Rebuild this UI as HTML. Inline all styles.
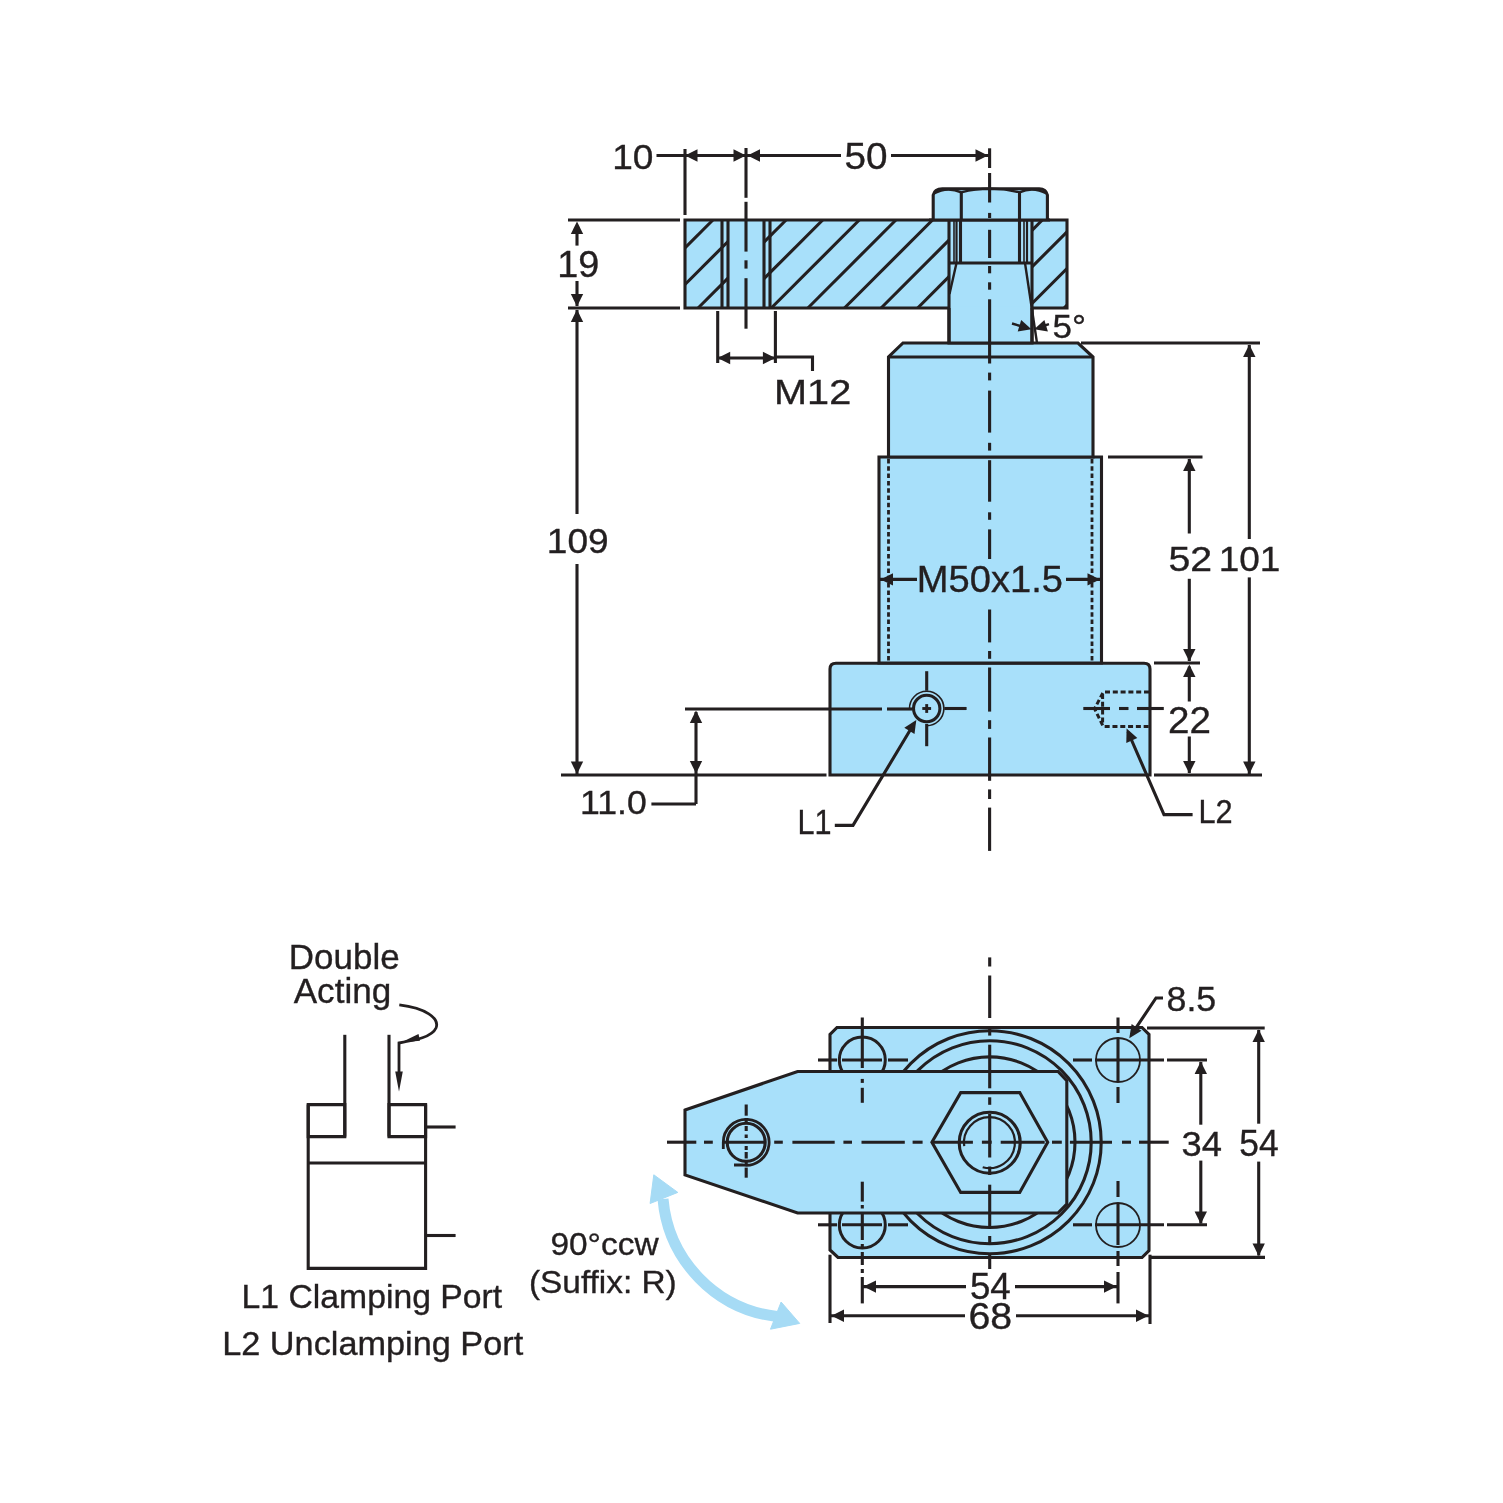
<!DOCTYPE html>
<html><head><meta charset="utf-8"><style>
html,body{margin:0;padding:0;background:#fff;width:1503px;height:1503px;overflow:hidden}
svg{display:block}
.t{will-change:transform}
text{font-family:"Liberation Sans",sans-serif;fill:#231f20}
</style></head><body>
<svg width="1503" height="1503" viewBox="0 0 1503 1503" stroke="#231f20" fill="none">
<rect x="0" y="0" width="1503" height="1503" fill="#fff" stroke="none"/>
<path d="M830,775 L830,669 Q830,663.2 836,663.2 L1144,663.2 Q1150,663.2 1150,669 L1150,775 Z" fill="#a8e0fa" stroke-width="3.1" />
<polygon points="879.0,663.0 879.0,457.0 1101.5,457.0 1101.5,663.0" fill="#a8e0fa" stroke-width="3.1" stroke-linejoin="miter"/>
<line x1="888.5" y1="459.0" x2="888.5" y2="661.0" stroke-width="2.8" stroke-dasharray="4.5 2.8" stroke-dashoffset="0" stroke-linecap="butt"/>
<line x1="1092.0" y1="459.0" x2="1092.0" y2="661.0" stroke-width="2.8" stroke-dasharray="4.5 2.8" stroke-dashoffset="0" stroke-linecap="butt"/>
<polygon points="888.5,457.0 888.5,357.0 903.0,343.0 1078.0,343.0 1093.0,357.0 1093.0,457.0" fill="#a8e0fa" stroke-width="3.1" stroke-linejoin="miter"/>
<line x1="888.5" y1="357.0" x2="1093.0" y2="357.0" stroke-width="3.1" stroke-linecap="butt"/>
<polygon points="949.0,343.0 949.0,263.0 1032.0,263.0 1032.0,343.0" fill="#a8e0fa" stroke-width="3.1" stroke-linejoin="miter"/>
<rect x="685" y="220" width="382" height="88" fill="#a8e0fa" stroke="none"/>
<line x1="685.0" y1="247.9" x2="712.9" y2="220.0" stroke-width="3.1" stroke-linecap="butt"/>
<line x1="685.0" y1="284.5" x2="728.0" y2="241.5" stroke-width="3.1" stroke-linecap="butt"/>
<line x1="698.1" y1="308.0" x2="728.0" y2="278.1" stroke-width="3.1" stroke-linecap="butt"/>
<line x1="764.0" y1="242.1" x2="786.1" y2="220.0" stroke-width="3.1" stroke-linecap="butt"/>
<line x1="764.0" y1="278.7" x2="822.7" y2="220.0" stroke-width="3.1" stroke-linecap="butt"/>
<line x1="771.3" y1="308.0" x2="859.3" y2="220.0" stroke-width="3.1" stroke-linecap="butt"/>
<line x1="807.9" y1="308.0" x2="895.9" y2="220.0" stroke-width="3.1" stroke-linecap="butt"/>
<line x1="844.5" y1="308.0" x2="932.5" y2="220.0" stroke-width="3.1" stroke-linecap="butt"/>
<line x1="881.1" y1="308.0" x2="949.0" y2="240.1" stroke-width="3.1" stroke-linecap="butt"/>
<line x1="917.7" y1="308.0" x2="949.0" y2="276.7" stroke-width="3.1" stroke-linecap="butt"/>
<line x1="1032.0" y1="230.3" x2="1042.3" y2="220.0" stroke-width="3.1" stroke-linecap="butt"/>
<line x1="1032.0" y1="266.9" x2="1067.0" y2="231.9" stroke-width="3.1" stroke-linecap="butt"/>
<line x1="1032.0" y1="303.5" x2="1067.0" y2="268.5" stroke-width="3.1" stroke-linecap="butt"/>
<line x1="1064.1" y1="308.0" x2="1067.0" y2="305.1" stroke-width="3.1" stroke-linecap="butt"/>
<rect x="729.5" y="221.4" width="33" height="85.2" fill="#a8e0fa" stroke="none"/>
<rect x="950.4" y="221.4" width="80.2" height="85.2" fill="#a8e0fa" stroke="none"/>
<polyline points="949.0,308.0 685.0,308.0 685.0,220.0 1067.0,220.0 1067.0,308.0 1032.0,308.0" fill="none" stroke-width="3.1" stroke-linejoin="miter"/>
<line x1="722.0" y1="220.0" x2="722.0" y2="308.0" stroke-width="3.1" stroke-linecap="butt"/>
<line x1="728.0" y1="220.0" x2="728.0" y2="308.0" stroke-width="3.1" stroke-linecap="butt"/>
<line x1="764.0" y1="220.0" x2="764.0" y2="308.0" stroke-width="3.1" stroke-linecap="butt"/>
<line x1="770.0" y1="220.0" x2="770.0" y2="308.0" stroke-width="3.1" stroke-linecap="butt"/>
<line x1="949.0" y1="220.0" x2="949.0" y2="343.0" stroke-width="3.1" stroke-linecap="butt"/>
<line x1="1032.0" y1="220.0" x2="1032.0" y2="343.0" stroke-width="3.1" stroke-linecap="butt"/>
<line x1="954.0" y1="220.0" x2="954.0" y2="263.0" stroke-width="1.6" stroke-linecap="butt"/>
<line x1="956.5" y1="220.0" x2="956.5" y2="263.0" stroke-width="2.2" stroke-linecap="butt"/>
<line x1="960.5" y1="220.0" x2="960.5" y2="263.0" stroke-width="3.1" stroke-linecap="butt"/>
<line x1="1019.5" y1="220.0" x2="1019.5" y2="263.0" stroke-width="3.1" stroke-linecap="butt"/>
<line x1="1024.0" y1="220.0" x2="1024.0" y2="263.0" stroke-width="1.6" stroke-linecap="butt"/>
<line x1="1027.0" y1="220.0" x2="1027.0" y2="263.0" stroke-width="2.2" stroke-linecap="butt"/>
<line x1="949.0" y1="263.0" x2="1032.0" y2="263.0" stroke-width="3.1" stroke-linecap="butt"/>
<line x1="956.5" y1="263.0" x2="949.5" y2="294.0" stroke-width="2.4" stroke-linecap="butt"/>
<line x1="1025.0" y1="263.0" x2="1037.0" y2="343.0" stroke-width="2.4" stroke-linecap="butt"/>
<path d="M933.2,220 L933.2,195 Q934.5,188.7 942.3,188.7 L1039.3,188.7 Q1046,188.7 1047.4,195 L1047.4,220" fill="#a8e0fa" stroke-width="3.1" />
<line x1="961.3" y1="191.5" x2="961.3" y2="220.0" stroke-width="3.1" stroke-linecap="butt"/>
<line x1="1019.5" y1="191.5" x2="1019.5" y2="220.0" stroke-width="3.1" stroke-linecap="butt"/>
<path d="M961.3,192.3 Q989.6,185 1019.5,192.3" fill="none" stroke-width="2.4" />
<path d="M934,193.5 Q947,186 961.3,192.3" fill="none" stroke-width="2.4" />
<path d="M1046.6,193.5 Q1033,186 1019.5,192.3" fill="none" stroke-width="2.4" />
<line x1="929.0" y1="220.0" x2="1050.0" y2="220.0" stroke-width="3.1" stroke-linecap="butt"/>
<line x1="989.6" y1="148.3" x2="989.6" y2="168.0" stroke-width="3.1" stroke-linecap="butt"/>
<line x1="989.6" y1="173.0" x2="989.6" y2="202.5" stroke-width="3.1" stroke-linecap="butt"/>
<line x1="989.6" y1="212.9" x2="989.6" y2="218.0" stroke-width="3.1" stroke-linecap="butt"/>
<line x1="989.6" y1="229.8" x2="989.6" y2="258.0" stroke-width="3.1" stroke-linecap="butt"/>
<line x1="989.6" y1="266.0" x2="989.6" y2="273.3" stroke-width="3.1" stroke-linecap="butt"/>
<line x1="989.6" y1="282.3" x2="989.6" y2="289.7" stroke-width="3.1" stroke-linecap="butt"/>
<line x1="989.6" y1="299.3" x2="989.6" y2="363.5" stroke-width="3.1" stroke-linecap="butt"/>
<line x1="989.6" y1="372.6" x2="989.6" y2="380.4" stroke-width="3.1" stroke-linecap="butt"/>
<line x1="989.6" y1="390.6" x2="989.6" y2="432.6" stroke-width="3.1" stroke-linecap="butt"/>
<line x1="989.6" y1="442.8" x2="989.6" y2="450.6" stroke-width="3.1" stroke-linecap="butt"/>
<line x1="989.6" y1="460.2" x2="989.6" y2="501.7" stroke-width="3.1" stroke-linecap="butt"/>
<line x1="989.6" y1="512.3" x2="989.6" y2="519.8" stroke-width="3.1" stroke-linecap="butt"/>
<line x1="989.6" y1="529.4" x2="989.6" y2="559.0" stroke-width="3.1" stroke-linecap="butt"/>
<line x1="989.6" y1="609.5" x2="989.6" y2="642.4" stroke-width="3.1" stroke-linecap="butt"/>
<line x1="989.6" y1="651.0" x2="989.6" y2="658.8" stroke-width="3.1" stroke-linecap="butt"/>
<line x1="989.6" y1="667.5" x2="989.6" y2="711.6" stroke-width="3.1" stroke-linecap="butt"/>
<line x1="989.6" y1="720.2" x2="989.6" y2="728.9" stroke-width="3.1" stroke-linecap="butt"/>
<line x1="989.6" y1="737.5" x2="989.6" y2="780.8" stroke-width="3.1" stroke-linecap="butt"/>
<line x1="989.6" y1="789.4" x2="989.6" y2="799.0" stroke-width="3.1" stroke-linecap="butt"/>
<line x1="989.6" y1="807.6" x2="989.6" y2="850.9" stroke-width="3.1" stroke-linecap="butt"/>
<line x1="746.0" y1="148.0" x2="746.0" y2="197.8" stroke-width="3.1" stroke-linecap="butt"/>
<line x1="746.0" y1="201.8" x2="746.0" y2="251.6" stroke-width="3.1" stroke-linecap="butt"/>
<line x1="746.0" y1="260.3" x2="746.0" y2="268.6" stroke-width="3.1" stroke-linecap="butt"/>
<line x1="746.0" y1="278.2" x2="746.0" y2="328.7" stroke-width="3.1" stroke-linecap="butt"/>
<line x1="685.0" y1="149.0" x2="685.0" y2="215.0" stroke-width="3.1" stroke-linecap="butt"/>
<line x1="656.5" y1="155.5" x2="746.0" y2="155.5" stroke-width="3.1" stroke-linecap="butt"/>
<polygon points="685.0,155.5 697.5,149.3 697.5,161.7" fill="#231f20" stroke="none"/>
<polygon points="746.0,155.5 733.5,161.7 733.5,149.3" fill="#231f20" stroke="none"/>
<line x1="746.0" y1="155.5" x2="841.0" y2="155.5" stroke-width="3.1" stroke-linecap="butt"/>
<line x1="891.0" y1="155.5" x2="989.0" y2="155.5" stroke-width="3.1" stroke-linecap="butt"/>
<polygon points="747.5,155.5 760.0,149.3 760.0,161.7" fill="#231f20" stroke="none"/>
<polygon points="988.0,155.5 975.5,161.7 975.5,149.3" fill="#231f20" stroke="none"/>
<line x1="568.0" y1="220.0" x2="680.0" y2="220.0" stroke-width="3.1" stroke-linecap="butt"/>
<line x1="568.0" y1="308.0" x2="680.0" y2="308.0" stroke-width="3.1" stroke-linecap="butt"/>
<line x1="577.0" y1="233.0" x2="577.0" y2="245.6" stroke-width="3.1" stroke-linecap="butt"/>
<line x1="577.0" y1="281.0" x2="577.0" y2="306.0" stroke-width="3.1" stroke-linecap="butt"/>
<polygon points="577.0,221.5 583.2,234.0 570.8,234.0" fill="#231f20" stroke="none"/>
<polygon points="577.0,306.5 570.8,294.0 583.2,294.0" fill="#231f20" stroke="none"/>
<line x1="577.0" y1="310.0" x2="577.0" y2="514.0" stroke-width="3.1" stroke-linecap="butt"/>
<line x1="577.0" y1="564.0" x2="577.0" y2="774.0" stroke-width="3.1" stroke-linecap="butt"/>
<polygon points="577.0,309.5 583.2,322.0 570.8,322.0" fill="#231f20" stroke="none"/>
<polygon points="577.0,774.0 570.8,761.5 583.2,761.5" fill="#231f20" stroke="none"/>
<line x1="561.0" y1="775.0" x2="826.5" y2="775.0" stroke-width="3.1" stroke-linecap="butt"/>
<line x1="685.0" y1="709.0" x2="882.0" y2="709.0" stroke-width="3.1" stroke-linecap="butt"/>
<line x1="887.0" y1="709.0" x2="912.0" y2="709.0" stroke-width="3.1" stroke-linecap="butt"/>
<line x1="696.0" y1="712.0" x2="696.0" y2="804.0" stroke-width="3.1" stroke-linecap="butt"/>
<polygon points="696.0,710.5 702.2,723.0 689.8,723.0" fill="#231f20" stroke="none"/>
<polygon points="696.0,773.5 689.8,761.0 702.2,761.0" fill="#231f20" stroke="none"/>
<polyline points="696.0,804.0 651.4,804.0" fill="none" stroke-width="3.1" stroke-linejoin="miter"/>
<line x1="717.7" y1="311.0" x2="717.7" y2="363.0" stroke-width="3.1" stroke-linecap="butt"/>
<line x1="775.4" y1="311.0" x2="775.4" y2="363.0" stroke-width="3.1" stroke-linecap="butt"/>
<line x1="717.7" y1="358.0" x2="775.4" y2="358.0" stroke-width="3.1" stroke-linecap="butt"/>
<polygon points="717.7,358.0 730.2,351.8 730.2,364.2" fill="#231f20" stroke="none"/>
<polygon points="775.4,358.0 762.9,364.2 762.9,351.8" fill="#231f20" stroke="none"/>
<polyline points="775.4,357.0 812.5,357.0 812.5,371.0" fill="none" stroke-width="3.1" stroke-linejoin="miter"/>
<line x1="1012.0" y1="323.5" x2="1022.0" y2="326.5" stroke-width="2.4" stroke-linecap="butt"/>
<polygon points="1031.4,329.3 1017.7,331.5 1021.2,320.0" fill="#231f20" stroke="none"/>
<line x1="1049.0" y1="324.2" x2="1040.0" y2="327.0" stroke-width="2.4" stroke-linecap="butt"/>
<polygon points="1034.2,329.3 1044.4,320.0 1047.9,331.5" fill="#231f20" stroke="none"/>
<line x1="1081.0" y1="343.0" x2="1260.0" y2="343.0" stroke-width="3.1" stroke-linecap="butt"/>
<line x1="1249.3" y1="345.0" x2="1249.3" y2="539.0" stroke-width="3.1" stroke-linecap="butt"/>
<line x1="1249.3" y1="577.4" x2="1249.3" y2="774.0" stroke-width="3.1" stroke-linecap="butt"/>
<polygon points="1249.3,344.5 1255.5,357.0 1243.1,357.0" fill="#231f20" stroke="none"/>
<polygon points="1249.3,774.0 1243.1,761.5 1255.5,761.5" fill="#231f20" stroke="none"/>
<line x1="1108.0" y1="457.0" x2="1202.5" y2="457.0" stroke-width="3.1" stroke-linecap="butt"/>
<line x1="1189.3" y1="459.0" x2="1189.3" y2="533.5" stroke-width="3.1" stroke-linecap="butt"/>
<line x1="1189.3" y1="578.8" x2="1189.3" y2="661.0" stroke-width="3.1" stroke-linecap="butt"/>
<polygon points="1189.3,458.5 1195.5,471.0 1183.1,471.0" fill="#231f20" stroke="none"/>
<polygon points="1189.3,661.5 1183.1,649.0 1195.5,649.0" fill="#231f20" stroke="none"/>
<line x1="1154.0" y1="663.0" x2="1200.0" y2="663.0" stroke-width="3.1" stroke-linecap="butt"/>
<line x1="1189.3" y1="666.6" x2="1189.3" y2="701.5" stroke-width="3.1" stroke-linecap="butt"/>
<line x1="1189.3" y1="736.5" x2="1189.3" y2="773.0" stroke-width="3.1" stroke-linecap="butt"/>
<polygon points="1189.3,664.5 1195.5,677.0 1183.1,677.0" fill="#231f20" stroke="none"/>
<polygon points="1189.3,773.5 1183.1,761.0 1195.5,761.0" fill="#231f20" stroke="none"/>
<line x1="1154.0" y1="775.0" x2="1262.0" y2="775.0" stroke-width="3.1" stroke-linecap="butt"/>
<line x1="879.0" y1="579.4" x2="917.0" y2="579.4" stroke-width="3.1" stroke-linecap="butt"/>
<line x1="1066.0" y1="579.4" x2="1101.5" y2="579.4" stroke-width="3.1" stroke-linecap="butt"/>
<polygon points="880.5,579.4 893.0,573.2 893.0,585.6" fill="#231f20" stroke="none"/>
<polygon points="1100.0,579.4 1087.5,585.6 1087.5,573.2" fill="#231f20" stroke="none"/>
<circle cx="926.7" cy="708.5" r="13.2" fill="none" stroke-width="3.1"/>
<path d="M909.5,709 A17.2,17.2 0 1 1 926,725.7" fill="none" stroke-width="1.6" />
<line x1="922.3" y1="708.5" x2="931.1" y2="708.5" stroke-width="2.9" stroke-linecap="butt"/>
<line x1="926.7" y1="704.1" x2="926.7" y2="712.9" stroke-width="2.9" stroke-linecap="butt"/>
<line x1="926.7" y1="671.2" x2="926.7" y2="690.7" stroke-width="3.1" stroke-linecap="butt"/>
<line x1="926.7" y1="723.9" x2="926.7" y2="746.2" stroke-width="3.1" stroke-linecap="butt"/>
<line x1="944.3" y1="708.5" x2="966.6" y2="708.5" stroke-width="3.1" stroke-linecap="butt"/>
<polyline points="913.5,724.5 853.0,825.4 834.8,825.4" fill="none" stroke-width="3.1" stroke-linejoin="miter"/>
<polygon points="916.3,719.9 914.5,734.1 904.3,727.8" fill="#231f20" stroke="none"/>
<path d="M1149,692 L1103.3,692 L1094.6,708.7 L1103.3,726.6 L1149,726.6" fill="none" stroke-width="3.0" stroke-dasharray="5 2.8"/>
<line x1="1102.6" y1="694.0" x2="1102.6" y2="724.6" stroke-width="3.0" stroke-dasharray="5 2.8" stroke-dashoffset="0" stroke-linecap="butt"/>
<line x1="1083.3" y1="708.5" x2="1110.0" y2="708.5" stroke-width="3.1" stroke-linecap="butt"/>
<line x1="1119.0" y1="708.5" x2="1128.5" y2="708.5" stroke-width="3.1" stroke-linecap="butt"/>
<line x1="1137.0" y1="708.5" x2="1163.8" y2="708.5" stroke-width="3.1" stroke-linecap="butt"/>
<polyline points="1128.0,732.0 1164.0,814.6 1192.6,814.6" fill="none" stroke-width="3.1" stroke-linejoin="miter"/>
<polygon points="1126.6,728.6 1137.3,738.1 1126.3,742.9" fill="#231f20" stroke="none"/>
<polygon points="837.0,1027.5 1142.0,1027.5 1149.0,1034.5 1149.0,1250.5 1142.0,1257.5 838.0,1257.5 830.0,1250.0 830.0,1034.5" fill="#a8e0fa" stroke-width="3.1" stroke-linejoin="miter"/>
<circle cx="862.3" cy="1060.0" r="23.0" fill="none" stroke-width="3.0"/>
<circle cx="862.3" cy="1225.0" r="23.0" fill="none" stroke-width="3.0"/>
<circle cx="1118.0" cy="1060.0" r="22.0" fill="none" stroke-width="1.8"/>
<circle cx="1118.0" cy="1225.0" r="22.0" fill="none" stroke-width="1.8"/>
<circle cx="989.7" cy="1142.2" r="111.5" fill="none" stroke-width="3.1"/>
<circle cx="989.7" cy="1142.2" r="101.5" fill="none" stroke-width="3.1"/>
<circle cx="989.7" cy="1142.2" r="85.3" fill="none" stroke-width="3.1"/>
<line x1="818.0" y1="1060.0" x2="837.0" y2="1060.0" stroke-width="3.1" stroke-linecap="butt"/>
<line x1="842.0" y1="1060.0" x2="882.0" y2="1060.0" stroke-width="3.1" stroke-linecap="butt"/>
<line x1="888.0" y1="1060.0" x2="908.0" y2="1060.0" stroke-width="3.1" stroke-linecap="butt"/>
<line x1="1073.0" y1="1060.0" x2="1092.0" y2="1060.0" stroke-width="3.1" stroke-linecap="butt"/>
<line x1="1095.0" y1="1060.0" x2="1164.0" y2="1060.0" stroke-width="3.1" stroke-linecap="butt"/>
<line x1="1167.0" y1="1060.0" x2="1207.0" y2="1060.0" stroke-width="3.1" stroke-linecap="butt"/>
<line x1="818.0" y1="1224.8" x2="837.0" y2="1224.8" stroke-width="3.1" stroke-linecap="butt"/>
<line x1="842.0" y1="1224.8" x2="882.0" y2="1224.8" stroke-width="3.1" stroke-linecap="butt"/>
<line x1="888.0" y1="1224.8" x2="908.0" y2="1224.8" stroke-width="3.1" stroke-linecap="butt"/>
<line x1="1073.0" y1="1224.8" x2="1092.0" y2="1224.8" stroke-width="3.1" stroke-linecap="butt"/>
<line x1="1095.0" y1="1224.8" x2="1164.0" y2="1224.8" stroke-width="3.1" stroke-linecap="butt"/>
<line x1="1167.0" y1="1224.8" x2="1207.0" y2="1224.8" stroke-width="3.1" stroke-linecap="butt"/>
<polygon points="685.0,1110.0 797.6,1071.5 1058.0,1071.5 1066.8,1080.7 1066.8,1204.0 1058.0,1213.0 797.6,1213.0 685.0,1175.0" fill="#a8e0fa" stroke-width="3.1" stroke-linejoin="miter"/>
<line x1="862.3" y1="1017.5" x2="862.3" y2="1068.0" stroke-width="3.1" stroke-linecap="butt"/>
<line x1="862.3" y1="1078.9" x2="862.3" y2="1082.9" stroke-width="3.1" stroke-linecap="butt"/>
<line x1="862.3" y1="1087.8" x2="862.3" y2="1102.8" stroke-width="3.1" stroke-linecap="butt"/>
<line x1="862.3" y1="1181.7" x2="862.3" y2="1201.6" stroke-width="3.1" stroke-linecap="butt"/>
<line x1="862.3" y1="1205.0" x2="862.3" y2="1208.5" stroke-width="3.1" stroke-linecap="butt"/>
<line x1="862.3" y1="1212.0" x2="862.3" y2="1240.0" stroke-width="3.1" stroke-linecap="butt"/>
<line x1="862.3" y1="1244.0" x2="862.3" y2="1248.0" stroke-width="3.1" stroke-linecap="butt"/>
<line x1="862.3" y1="1252.0" x2="862.3" y2="1265.0" stroke-width="3.1" stroke-linecap="butt"/>
<line x1="862.3" y1="1269.0" x2="862.3" y2="1273.0" stroke-width="3.1" stroke-linecap="butt"/>
<line x1="862.3" y1="1277.0" x2="862.3" y2="1303.4" stroke-width="3.1" stroke-linecap="butt"/>
<line x1="1118.0" y1="1017.5" x2="1118.0" y2="1033.0" stroke-width="3.1" stroke-linecap="butt"/>
<line x1="1118.0" y1="1039.0" x2="1118.0" y2="1081.0" stroke-width="3.1" stroke-linecap="butt"/>
<line x1="1118.0" y1="1087.0" x2="1118.0" y2="1103.0" stroke-width="3.1" stroke-linecap="butt"/>
<line x1="1118.0" y1="1181.0" x2="1118.0" y2="1197.0" stroke-width="3.1" stroke-linecap="butt"/>
<line x1="1118.0" y1="1203.0" x2="1118.0" y2="1245.0" stroke-width="3.1" stroke-linecap="butt"/>
<line x1="1118.0" y1="1251.0" x2="1118.0" y2="1266.0" stroke-width="3.1" stroke-linecap="butt"/>
<line x1="1118.0" y1="1272.0" x2="1118.0" y2="1303.4" stroke-width="3.1" stroke-linecap="butt"/>
<polygon points="931.9,1142.2 960.7,1092.6 1019.7,1092.6 1047.7,1142.2 1019.7,1192.4 960.7,1192.4" fill="none" stroke-width="3.1" stroke-linejoin="miter"/>
<circle cx="989.7" cy="1142.7" r="30.5" fill="none" stroke-width="3.1"/>
<path d="M964.2,1146.2 A25.5,25.5 0 1 1 982.7,1167.2" fill="none" stroke-width="2.2" />
<circle cx="746.2" cy="1142.3" r="19.0" fill="none" stroke-width="3.1"/>
<path d="M723.3,1149 L723.3,1142.3 A22.9,22.9 0 1 1 742,1164.8 L734,1165" fill="none" stroke-width="2.8" />
<line x1="667.0" y1="1142.2" x2="696.3" y2="1142.2" stroke-width="3.1" stroke-linecap="butt"/>
<line x1="704.0" y1="1142.2" x2="712.8" y2="1142.2" stroke-width="3.1" stroke-linecap="butt"/>
<line x1="722.3" y1="1142.2" x2="765.5" y2="1142.2" stroke-width="3.1" stroke-linecap="butt"/>
<line x1="774.2" y1="1142.2" x2="782.8" y2="1142.2" stroke-width="3.1" stroke-linecap="butt"/>
<line x1="792.4" y1="1142.2" x2="834.7" y2="1142.2" stroke-width="3.1" stroke-linecap="butt"/>
<line x1="843.4" y1="1142.2" x2="852.0" y2="1142.2" stroke-width="3.1" stroke-linecap="butt"/>
<line x1="861.5" y1="1142.2" x2="904.8" y2="1142.2" stroke-width="3.1" stroke-linecap="butt"/>
<line x1="912.6" y1="1142.2" x2="922.6" y2="1142.2" stroke-width="3.1" stroke-linecap="butt"/>
<line x1="931.6" y1="1142.2" x2="972.9" y2="1142.2" stroke-width="3.1" stroke-linecap="butt"/>
<line x1="981.9" y1="1142.2" x2="991.7" y2="1142.2" stroke-width="3.1" stroke-linecap="butt"/>
<line x1="1000.7" y1="1142.2" x2="1044.7" y2="1142.2" stroke-width="3.1" stroke-linecap="butt"/>
<line x1="1052.0" y1="1142.2" x2="1061.8" y2="1142.2" stroke-width="3.1" stroke-linecap="butt"/>
<line x1="1069.9" y1="1142.2" x2="1112.0" y2="1142.2" stroke-width="3.1" stroke-linecap="butt"/>
<line x1="1122.0" y1="1142.2" x2="1131.0" y2="1142.2" stroke-width="3.1" stroke-linecap="butt"/>
<line x1="1139.0" y1="1142.2" x2="1168.7" y2="1142.2" stroke-width="3.1" stroke-linecap="butt"/>
<line x1="989.7" y1="957.4" x2="989.7" y2="966.5" stroke-width="3.1" stroke-linecap="butt"/>
<line x1="989.7" y1="975.5" x2="989.7" y2="1018.0" stroke-width="3.1" stroke-linecap="butt"/>
<line x1="989.7" y1="1028.7" x2="989.7" y2="1035.6" stroke-width="3.1" stroke-linecap="butt"/>
<line x1="989.7" y1="1044.7" x2="989.7" y2="1088.3" stroke-width="3.1" stroke-linecap="butt"/>
<line x1="989.7" y1="1097.3" x2="989.7" y2="1104.8" stroke-width="3.1" stroke-linecap="butt"/>
<line x1="989.7" y1="1114.0" x2="989.7" y2="1157.5" stroke-width="3.1" stroke-linecap="butt"/>
<line x1="989.7" y1="1166.5" x2="989.7" y2="1175.0" stroke-width="3.1" stroke-linecap="butt"/>
<line x1="989.7" y1="1184.7" x2="989.7" y2="1227.6" stroke-width="3.1" stroke-linecap="butt"/>
<line x1="989.7" y1="1236.0" x2="989.7" y2="1244.6" stroke-width="3.1" stroke-linecap="butt"/>
<line x1="989.7" y1="1254.0" x2="989.7" y2="1269.0" stroke-width="3.1" stroke-linecap="butt"/>
<line x1="746.2" y1="1104.5" x2="746.2" y2="1115.7" stroke-width="3.1" stroke-linecap="butt"/>
<line x1="746.2" y1="1118.0" x2="746.2" y2="1123.0" stroke-width="3.1" stroke-linecap="butt"/>
<line x1="746.2" y1="1126.0" x2="746.2" y2="1131.0" stroke-width="3.1" stroke-linecap="butt"/>
<line x1="746.2" y1="1134.5" x2="746.2" y2="1138.0" stroke-width="3.1" stroke-linecap="butt"/>
<line x1="746.2" y1="1146.0" x2="746.2" y2="1150.0" stroke-width="3.1" stroke-linecap="butt"/>
<line x1="746.2" y1="1152.0" x2="746.2" y2="1158.5" stroke-width="3.1" stroke-linecap="butt"/>
<line x1="746.2" y1="1161.0" x2="746.2" y2="1164.0" stroke-width="3.1" stroke-linecap="butt"/>
<line x1="746.2" y1="1167.6" x2="746.2" y2="1177.7" stroke-width="3.1" stroke-linecap="butt"/>
<polyline points="1131.5,1034.5 1156.0,998.0 1163.0,998.0" fill="none" stroke-width="3.1" stroke-linejoin="miter"/>
<polygon points="1129.3,1038.2 1131.6,1024.1 1141.5,1030.8" fill="#231f20" stroke="none"/>
<line x1="1147.0" y1="1028.0" x2="1264.7" y2="1028.0" stroke-width="3.1" stroke-linecap="butt"/>
<line x1="1149.0" y1="1257.4" x2="1265.0" y2="1257.4" stroke-width="3.1" stroke-linecap="butt"/>
<line x1="1258.7" y1="1030.0" x2="1258.7" y2="1123.7" stroke-width="3.1" stroke-linecap="butt"/>
<line x1="1258.7" y1="1161.6" x2="1258.7" y2="1255.5" stroke-width="3.1" stroke-linecap="butt"/>
<polygon points="1258.7,1029.5 1264.9,1042.0 1252.5,1042.0" fill="#231f20" stroke="none"/>
<polygon points="1258.7,1256.0 1252.5,1243.5 1264.9,1243.5" fill="#231f20" stroke="none"/>
<line x1="1200.8" y1="1062.0" x2="1200.8" y2="1124.7" stroke-width="3.1" stroke-linecap="butt"/>
<line x1="1200.8" y1="1160.6" x2="1200.8" y2="1223.5" stroke-width="3.1" stroke-linecap="butt"/>
<polygon points="1200.8,1061.5 1207.0,1074.0 1194.6,1074.0" fill="#231f20" stroke="none"/>
<polygon points="1200.8,1224.0 1194.6,1211.5 1207.0,1211.5" fill="#231f20" stroke="none"/>
<line x1="830.0" y1="1254.7" x2="830.0" y2="1323.0" stroke-width="3.1" stroke-linecap="butt"/>
<line x1="1150.0" y1="1254.7" x2="1150.0" y2="1324.0" stroke-width="3.1" stroke-linecap="butt"/>
<line x1="863.0" y1="1286.6" x2="966.0" y2="1286.6" stroke-width="3.1" stroke-linecap="butt"/>
<line x1="1015.0" y1="1286.6" x2="1117.0" y2="1286.6" stroke-width="3.1" stroke-linecap="butt"/>
<polygon points="863.5,1286.6 876.0,1280.4 876.0,1292.8" fill="#231f20" stroke="none"/>
<polygon points="1116.5,1286.6 1104.0,1292.8 1104.0,1280.4" fill="#231f20" stroke="none"/>
<line x1="830.0" y1="1315.8" x2="965.0" y2="1315.8" stroke-width="3.1" stroke-linecap="butt"/>
<line x1="1016.0" y1="1315.8" x2="1150.0" y2="1315.8" stroke-width="3.1" stroke-linecap="butt"/>
<polygon points="831.5,1315.8 844.0,1309.6 844.0,1322.0" fill="#231f20" stroke="none"/>
<polygon points="1148.5,1315.8 1136.0,1322.0 1136.0,1309.6" fill="#231f20" stroke="none"/>
<path d="M663,1199 A129.5,129.5 0 0 0 777,1316.5" fill="none" stroke-width="11" stroke="#a6dbf5"/>
<polygon points="653.8,1174.8 650.1,1203.5 677.8,1192.4" fill="#a6dbf5" stroke="#a6dbf5" stroke-width="1" stroke-linejoin="round"/>
<polygon points="799.7,1323.4 781.1,1302 770.5,1329.2" fill="#a6dbf5" stroke="#a6dbf5" stroke-width="1" stroke-linejoin="round"/>
<polygon points="308.2,1104.6 344.8,1104.6 344.8,1136.6 308.2,1136.6" fill="none" stroke-width="3.1" stroke-linejoin="miter"/>
<polygon points="389.0,1104.6 425.6,1104.6 425.6,1136.6 389.0,1136.6" fill="none" stroke-width="3.1" stroke-linejoin="miter"/>
<polyline points="308.2,1104.6 308.2,1268.4 425.6,1268.4 425.6,1104.6" fill="none" stroke-width="3.1" stroke-linejoin="miter"/>
<line x1="308.2" y1="1163.0" x2="425.6" y2="1163.0" stroke-width="3.1" stroke-linecap="butt"/>
<line x1="344.8" y1="1034.8" x2="344.8" y2="1136.6" stroke-width="3.1" stroke-linecap="butt"/>
<line x1="389.0" y1="1034.8" x2="389.0" y2="1136.6" stroke-width="3.1" stroke-linecap="butt"/>
<line x1="425.6" y1="1127.0" x2="455.6" y2="1127.0" stroke-width="3.1" stroke-linecap="butt"/>
<line x1="425.6" y1="1235.5" x2="455.6" y2="1235.5" stroke-width="3.1" stroke-linecap="butt"/>
<path d="M399.3,1004.9 C425,1008 440,1018 436,1028 C432,1037 416,1040 399,1043 L399,1075" fill="none" stroke-width="2.8" />
<polygon points="399.0,1091.4 395.2,1071.4 402.8,1071.4" fill="#231f20" stroke="none"/>
<polygon points="401,1042.5 418.5,1034 420,1040.8" fill="#231f20" stroke="none"/>
<g opacity="0.999"><text transform="translate(612.22,169.00) scale(1.0349,1)" font-size="35.84" stroke="#231f20" stroke-width="0.35">10</text>
<text transform="translate(844.45,168.50) scale(1.0597,1)" font-size="36.56" stroke="#231f20" stroke-width="0.35">50</text>
<text transform="translate(557.17,277.20) scale(1.0213,1)" font-size="36.99" stroke="#231f20" stroke-width="0.35">19</text>
<text transform="translate(546.82,552.70) scale(1.0474,1)" font-size="35.41" stroke="#231f20" stroke-width="0.35">109</text>
<text transform="translate(580.02,814.40) scale(1.0634,1)" font-size="33.55" stroke="#231f20" stroke-width="0.35">11.0</text>
<text transform="translate(774.03,403.50) scale(1.1294,1)" font-size="35.13" stroke="#231f20" stroke-width="0.35">M12</text>
<text transform="translate(1052.60,338.00) scale(1.0488,1)" font-size="33.45" stroke="#231f20" stroke-width="0.35">5°</text>
<text transform="translate(1218.73,571.00) scale(1.0311,1)" font-size="35.84" stroke="#231f20" stroke-width="0.35">101</text>
<text transform="translate(1168.43,570.60) scale(1.1119,1)" font-size="35.27" stroke="#231f20" stroke-width="0.35">52</text>
<text transform="translate(1168.07,733.00) scale(1.0202,1)" font-size="37.85" stroke="#231f20" stroke-width="0.35">22</text>
<text transform="translate(916.86,592.00) scale(1.0418,1)" font-size="36.56" stroke="#231f20" stroke-width="0.35">M50x1.5</text>
<text transform="translate(797.47,833.90) scale(0.8590,1)" font-size="35.64" stroke="#231f20" stroke-width="0.35">L1</text>
<text transform="translate(1198.47,823.00) scale(0.9307,1)" font-size="32.97" stroke="#231f20" stroke-width="0.35">L2</text>
<text transform="translate(1166.48,1011.00) scale(1.0402,1)" font-size="34.41" stroke="#231f20" stroke-width="0.35">8.5</text>
<text transform="translate(1239.28,1155.60) scale(0.9773,1)" font-size="36.22" stroke="#231f20" stroke-width="0.35">54</text>
<text transform="translate(1181.44,1156.00) scale(1.0145,1)" font-size="35.84" stroke="#231f20" stroke-width="0.35">34</text>
<text transform="translate(969.93,1299.00) scale(1.0103,1)" font-size="36.36" stroke="#231f20" stroke-width="0.35">54</text>
<text transform="translate(968.43,1329.00) scale(1.0881,1)" font-size="36.13" stroke="#231f20" stroke-width="0.35">68</text>
<text transform="translate(550.41,1254.80) scale(1.0653,1)" font-size="31.40" stroke="#231f20" stroke-width="0.35">90°ccw</text>
<text transform="translate(528.91,1293.30) scale(1.0354,1)" font-size="32.26" stroke="#231f20" stroke-width="0.35">(Suffix: R)</text>
<text transform="translate(288.81,968.50) scale(1.0145,1)" font-size="34.47" stroke="#231f20" stroke-width="0.35">Double</text>
<text transform="translate(293.71,1003.10) scale(1.0181,1)" font-size="34.47" stroke="#231f20" stroke-width="0.35">Acting</text>
<text transform="translate(241.62,1308.00) scale(1.0085,1)" font-size="33.45" stroke="#231f20" stroke-width="0.35">L1 Clamping Port</text>
<text transform="translate(222.17,1354.70) scale(1.0072,1)" font-size="34.04" stroke="#231f20" stroke-width="0.35">L2 Unclamping Port</text></g>
</svg>
</body></html>
